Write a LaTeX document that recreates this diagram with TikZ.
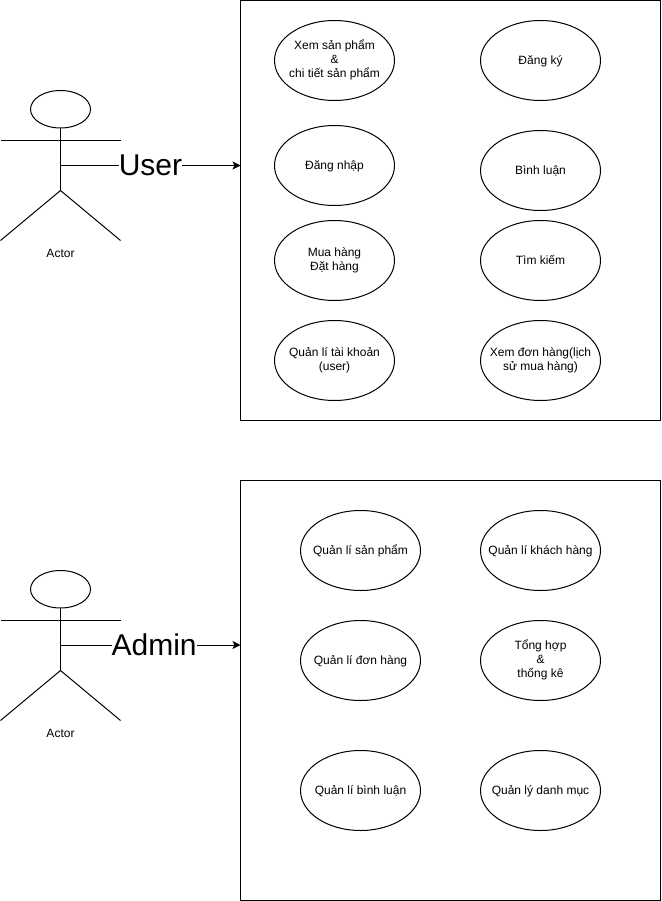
\documentclass[tikz,border=0pt]{standalone}
\usepackage{fontspec}
\setmainfont{Liberation Sans}
\usetikzlibrary{arrows.meta,positioning,shapes.geometric}

\begin{document}
\begin{tikzpicture}[
            x=1pt, y=-1pt,
            line width=1pt,
            node distance=20pt and 86pt,
            usecase/.style={draw, ellipse, align=center, minimum width=120pt, minimum height=80pt, inner xsep=-40pt, inner ysep=-20pt, outer sep=0pt, font=\fontsize{12}{14}\selectfont,
                execute at begin node={\rule{0pt}{11pt}}, execute at end node={\rule[-3pt]{0pt}{3pt}}},
            sysbox/.style={draw, minimum width=420pt, minimum height=420pt, inner sep=0pt, outer sep=0pt},
            head/.style={draw, ellipse, minimum width=60pt, minimum height=37.5pt, inner sep=0pt, outer sep=0pt},
            role/.style={fill=white, inner sep=0pt, font=\fontsize{30}{34}\selectfont},
            caption/.style={font=\fontsize{12}{14}\selectfont},
            arrow/.style={-{Stealth[length=8pt, width=8pt, inset=2pt]}}
        ]
        \useasboundingbox (0,0) rectangle (661,901);
        % user side
        \node[sysbox] (userbox) at (450.5,210.5) {};
        \node[usecase] (xem) at (334.5,60.5) {Xem sản phẩm\\\&\\chi tiết sản phẩm};
        \node[usecase, right=of xem] (dangky) {Đăng ký};
        \node[usecase, below=25pt of xem] (dangnhap) {Đăng nhập};
        \node[usecase, below=30pt of dangky] (binhluan) {Bình luận};
        \node[usecase, below=15pt of dangnhap] (muahang) {Mua hàng\\Đặt hàng};
        \node[usecase, below=10pt of binhluan] (timkiem) {Tìm kiếm};
        \node[usecase, below=of muahang] (taikhoan) {Quản lí tài khoản\\(user)};
        \node[usecase, below=of timkiem] (donhang) {Xem đơn hàng(lịch\\sử mua hàng)};

        \node[head] (userhead) at (60.5,109.25) {};
        \coordinate (userarml) at (0.5,140.5);
        \coordinate (userarmr) at (120.5,140.5);
        \coordinate (userhub) at (60.5,165.5);
        \coordinate (userhip) at (60.5,190.5);
        \coordinate (userfootl) at (0.5,240.5);
        \coordinate (userfootr) at (120.5,240.5);
        \node[caption] (useractor) at (60.5,253.5) {Actor};
        \draw (userhead) -- (userhip);
        \draw (userarml) -- (userarmr);
        \draw (userfootl) -- (userhip) -- (userfootr);
        \draw[arrow] (userhub) -- node[role] (userlabel) {User} (userhub -| userbox.west);

        % admin side
        \node[sysbox] (adminbox) at (450.5,690.5) {};
        \node[usecase] (sanpham) at (360.5,550.5) {Quản lí sản phẩm};
        \node[usecase, right=60pt of sanpham] (khachhang) {Quản lí khách hàng};
        \node[usecase, below=30pt of sanpham] (donhangql) {Quản lí đơn hàng};
        \node[usecase, below=30pt of khachhang] (tonghop) {Tổng hợp\\\&\\thống kê};
        \node[usecase, below=50pt of donhangql] (binhluanql) {Quản lí bình luận};
        \node[usecase, below=50pt of tonghop] (danhmuc) {Quản lý danh mục};

        \node[head] (adminhead) at (60.5,589.25) {};
        \coordinate (adminarml) at (0.5,620.5);
        \coordinate (adminarmr) at (120.5,620.5);
        \coordinate (adminhub) at (60.5,645);
        \coordinate (adminhip) at (60.5,670.5);
        \coordinate (adminfootl) at (0.5,720.5);
        \coordinate (adminfootr) at (120.5,720.5);
        \node[caption] (adminactor) at (60.5,733.5) {Actor};
        \draw (adminhead) -- (adminhip);
        \draw (adminarml) -- (adminarmr);
        \draw (adminfootl) -- (adminhip) -- (adminfootr);
        \draw[arrow] (adminhub) -- node[role, pos=0.52] (adminlabel) {Admin} (adminhub -| adminbox.west);
\end{tikzpicture}
\end{document}
